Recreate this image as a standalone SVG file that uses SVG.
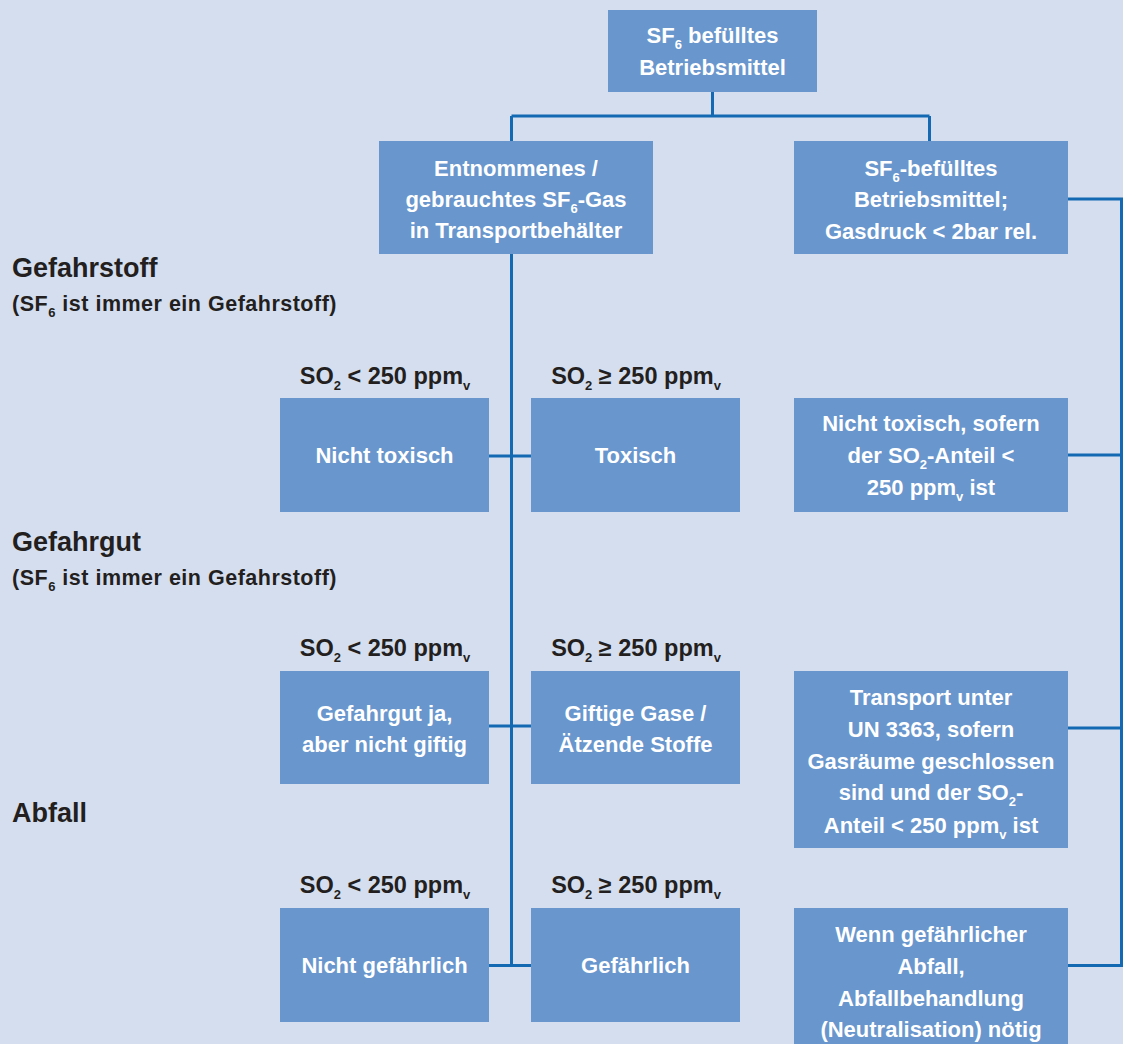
<svg xmlns="http://www.w3.org/2000/svg" width="1123" height="1044" viewBox="0 0 1123 1044">
<style>
.bg{fill:#D5DEEF}
.box{fill:#6896CD}
.bt{font-family:"Liberation Sans",Arial,sans-serif;font-weight:bold;font-size:22px;fill:#FFFFFF;text-anchor:middle}
.lb{font-family:"Liberation Sans",Arial,sans-serif;font-weight:bold;font-size:23.5px;fill:#231F20;text-anchor:middle}
.hd{font-family:"Liberation Sans",Arial,sans-serif;font-weight:bold;font-size:27px;fill:#231F20}
.sh{font-family:"Liberation Sans",Arial,sans-serif;font-weight:bold;font-size:21.5px;letter-spacing:0.5px;fill:#231F20}
.sub{font-size:13px}
.con{fill:none;stroke:#136AB3;stroke-width:3}
</style>
<rect class="bg" x="0" y="0" width="1123" height="1044"/>
<g id="connectors">
<path class="con" d="M712.5,92 V116 M511.5,116 H929.5 M511.5,116 V141 M929.5,116 V141"/>
<path class="con" d="M511.5,254 V965.5"/>
<path class="con" d="M489,456 H531 M489,726 H531 M489,965.5 H531"/>
<path class="con" d="M1068,199 H1121.5 V965.5 H1068 M1068,455 H1121.5 M1068,728 H1121.5"/>
</g>
<g id="headings">
<text class="hd" x="12" y="277">Gefahrstoff</text>
<text class="sh" x="12" y="311">(SF<tspan class="sub" dy="6">6</tspan><tspan dy="-6"> ist immer ein Gefahrstoff)</tspan></text>
<text class="hd" x="12" y="551">Gefahrgut</text>
<text class="sh" x="12" y="585">(SF<tspan class="sub" dy="6">6</tspan><tspan dy="-6"> ist immer ein Gefahrstoff)</tspan></text>
<text class="hd" x="12" y="822">Abfall</text>
</g>
<g id="labels">
<text class="lb" x="385" y="384">SO<tspan class="sub" dy="6">2</tspan><tspan dy="-6"> &lt; 250 ppm</tspan><tspan class="sub" dy="6">v</tspan></text>
<text class="lb" x="636" y="384">SO<tspan class="sub" dy="6">2</tspan><tspan dy="-6"> ≥ 250 ppm</tspan><tspan class="sub" dy="6">v</tspan></text>
<text class="lb" x="385" y="656">SO<tspan class="sub" dy="6">2</tspan><tspan dy="-6"> &lt; 250 ppm</tspan><tspan class="sub" dy="6">v</tspan></text>
<text class="lb" x="636" y="656">SO<tspan class="sub" dy="6">2</tspan><tspan dy="-6"> ≥ 250 ppm</tspan><tspan class="sub" dy="6">v</tspan></text>
<text class="lb" x="385" y="893">SO<tspan class="sub" dy="6">2</tspan><tspan dy="-6"> &lt; 250 ppm</tspan><tspan class="sub" dy="6">v</tspan></text>
<text class="lb" x="636" y="893">SO<tspan class="sub" dy="6">2</tspan><tspan dy="-6"> ≥ 250 ppm</tspan><tspan class="sub" dy="6">v</tspan></text>
</g>
<g id="n-top">
<rect class="box" x="608" y="10" width="209" height="82"/>
<text class="bt" x="712.5" y="43">SF<tspan class="sub" dy="6">6</tspan><tspan dy="-6"> befülltes</tspan></text>
<text class="bt" x="712.5" y="75">Betriebsmittel</text>
</g>
<g id="n-gas">
<rect class="box" x="379" y="141" width="274" height="113"/>
<text class="bt" x="516" y="176">Entnommenes /</text>
<text class="bt" x="516" y="207">gebrauchtes SF<tspan class="sub" dy="6">6</tspan><tspan dy="-6">-Gas</tspan></text>
<text class="bt" x="516" y="238">in Transportbehälter</text>
</g>
<g id="n-equip">
<rect class="box" x="794" y="141" width="274" height="113"/>
<text class="bt" x="931" y="176">SF<tspan class="sub" dy="6">6</tspan><tspan dy="-6">-befülltes</tspan></text>
<text class="bt" x="931" y="207">Betriebsmittel;</text>
<text class="bt" x="931" y="239">Gasdruck &lt; 2bar rel.</text>
</g>
<g id="n-nichttoxisch">
<rect class="box" x="280" y="398" width="209" height="114"/>
<text class="bt" x="384.5" y="463">Nicht toxisch</text>
</g>
<g id="n-toxisch">
<rect class="box" x="531" y="398" width="209" height="114"/>
<text class="bt" x="635.5" y="463">Toxisch</text>
</g>
<g id="n-equip-tox">
<rect class="box" x="794" y="398" width="274" height="114"/>
<text class="bt" x="931" y="431">Nicht toxisch, sofern</text>
<text class="bt" x="931" y="463">der SO<tspan class="sub" dy="6">2</tspan><tspan dy="-6">-Anteil &lt;</tspan></text>
<text class="bt" x="931" y="495">250 ppm<tspan class="sub" dy="6">v</tspan><tspan dy="-6"> ist</tspan></text>
</g>
<g id="n-gefahrgut">
<rect class="box" x="280" y="671" width="209" height="113"/>
<text class="bt" x="384.5" y="721">Gefahrgut ja,</text>
<text class="bt" x="384.5" y="752">aber nicht giftig</text>
</g>
<g id="n-giftig">
<rect class="box" x="531" y="671" width="209" height="113"/>
<text class="bt" x="635.5" y="721">Giftige Gase /</text>
<text class="bt" x="635.5" y="752">Ätzende Stoffe</text>
</g>
<g id="n-transport">
<rect class="box" x="794" y="671" width="274" height="177"/>
<text class="bt" x="931" y="705">Transport unter</text>
<text class="bt" x="931" y="737">UN 3363, sofern</text>
<text class="bt" x="931" y="769">Gasräume geschlossen</text>
<text class="bt" x="931" y="800">sind und der SO<tspan class="sub" dy="6">2</tspan><tspan dy="-6">-</tspan></text>
<text class="bt" x="931" y="833">Anteil &lt; 250 ppm<tspan class="sub" dy="6">v</tspan><tspan dy="-6"> ist</tspan></text>
</g>
<g id="n-nichtgef">
<rect class="box" x="280" y="908" width="209" height="114"/>
<text class="bt" x="384.5" y="973">Nicht gefährlich</text>
</g>
<g id="n-gef">
<rect class="box" x="531" y="908" width="209" height="114"/>
<text class="bt" x="635.5" y="973">Gefährlich</text>
</g>
<g id="n-abfall">
<rect class="box" x="794" y="908" width="274" height="136"/>
<text class="bt" x="931" y="942">Wenn gefährlicher</text>
<text class="bt" x="931" y="974">Abfall,</text>
<text class="bt" x="931" y="1006">Abfallbehandlung</text>
<text class="bt" x="931" y="1037">(Neutralisation) nötig</text>
</g>
</svg>
